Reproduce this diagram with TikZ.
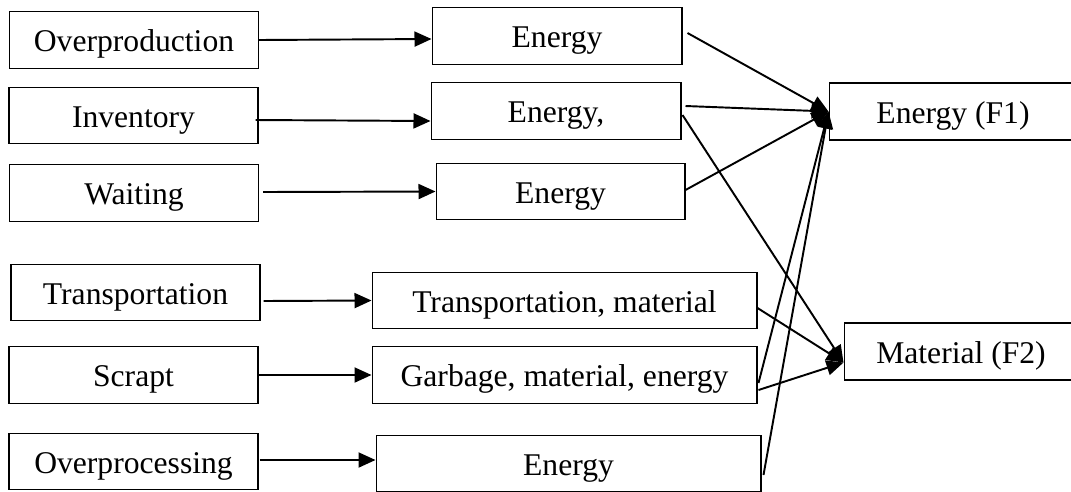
\documentclass[tikz,border=0pt]{standalone}
\usepackage{fontspec}
\setmainfont{Liberation Serif}
\usetikzlibrary{arrows.meta,calc}

\begin{document}
\begin{tikzpicture}[x=0.02cm, y=-0.02cm, font=\fontsize{18}{22}\selectfont]
    \tikzstyle{waste} = [draw, shape=rectangle, minimum width=4.98cm, minimum height=1.13cm, inner sep=0pt, text height=13.6pt, text depth=0pt, line width=0.6pt]
    \tikzstyle{cause} = [draw, shape=rectangle, minimum height=1.13cm, inner sep=0pt, text height=13.6pt, text depth=0pt, line width=0.6pt]
    \tikzstyle{flow} = [draw, shape=rectangle, minimum height=1.14cm, inner sep=0pt, text height=13.6pt, text depth=0pt, line width=0.6pt]

    \useasboundingbox (0,0) rectangle (1071,491);
    \clip (0,0) rectangle (1071,491);

    % wastes
    \node [waste] at (134,40) (over) {Overproduction};
    \node [waste] at (133.5,115.5) (inv) {Inventory};
    \node [waste] at (134,193) (wait) {Waiting};
    \node [waste] at (135.5,292.5) (trans) {Transportation\hspace{0.4cm}};
    \node [waste] at (133.5,375) (scrap) {Scrapt};
    \node [waste] at (133.5,461.5) (overproc) {Overprocessing};

    % what is lost
    \node [cause, minimum width=5cm] at (557,36) (en1) {Energy};
    \node [cause, minimum width=5cm] at (556,111) (en2) {Energy,};
    \node [cause, minimum width=4.98cm] at (560.5,191.5) (en3) {Energy};
    \node [cause, minimum width=7.7cm] at (564.5,300.5) (tmat) {Transportation, material};
    \node [cause, minimum width=7.7cm] at (564.5,375) (gme) {Garbage, material, energy};
    \node [cause, minimum width=7.7cm] at (568.5,463.5) (en6) {Energy};

    % factors
    \node [flow, minimum width=4.96cm] at (953,111.5) (f1) {Energy (F1)};
    \node [flow, minimum width=4.68cm] at (961,351.5) (f2) {Material (F2)};

    \begin{scope}[line width=1.1pt, -{Triangle[length=0.34cm, width=0.3cm]}]
    \draw (over.east) -- ($(en1.west)+(0,3)$);
    \draw ($(inv.east)+(-3,4.5)$) -- ($(en2.west)+(0,10)$);
    \draw ($(wait.east)+(4,-1)$) -- (en3.west);
    \draw ($(trans.east)+(3,8.5)$) -- (tmat.west);
    \draw (scrap.east) -- (gme.west);
    \draw ($(overproc.east)+(1,-1.5)$) -- ($(en6.west)+(0,-3.5)$);

    \draw ($(en1.east)+(5,-3)$) -- (f1.west);
    \draw ($(en2.east)+(4,-5)$) -- (f1.west);
    \draw ($(en3.east)+(0,-1.5)$) -- (f1.west);
    \draw ($(gme.east)+(1,8)$) -- (f1.west);
    \draw ($(en6.east)+(2,11.5)$) -- (f1.west);

    \draw ($(en2.east)+(1,4)$) -- ($(f2.west)+(0,11)$);
    \draw ($(tmat.east)+(0,7.5)$) -- ($(f2.west)+(0,11)$);
    \draw ($(gme.east)+(1,15)$) -- ($(f2.west)+(0,11)$);
    \end{scope}
\end{tikzpicture}
\end{document}
